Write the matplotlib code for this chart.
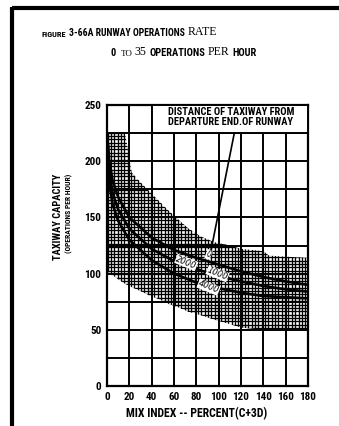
import matplotlib
matplotlib.use("Agg")
import matplotlib.pyplot as plt
import numpy as np
from matplotlib.collections import LineCollection
from matplotlib.lines import Line2D
from matplotlib.patches import Rectangle

# curves: taxiway capacity vs mix index, by distance from departure end
mix = [1, 2, 5, 10, 20, 40, 60, 80, 100, 120, 140, 160, 180]
cap_0 = [215, 200, 183, 168, 150, 132, 121, 114, 108, 102, 97, 93, 90]
cap_2000 = [205, 190, 172, 157, 140, 122, 111, 104, 98, 93, 89, 86, 84]
cap_4000 = [195, 180, 162, 147, 130, 112, 100, 92, 87, 83, 80, 79, 78]

# cross-hatched band
band_x = [0, 10, 16, 18, 22, 31, 39, 47, 55, 64, 73, 84, 96, 110, 120, 140, 145, 160, 180]
band_hi = [225, 225, 225, 215, 190, 180, 172, 164, 156, 148, 140, 133, 128, 125, 122, 120, 116, 115, 114]
band_lo = [102, 95, 91, 90, 88, 84, 80, 77, 73, 70, 66, 63, 59, 55, 52, 50, 50, 50, 50]

x_ticks = list(range(0, 181, 20))
y_ticks = list(range(0, 251, 50))

W, H = 339, 426
NARROW = ['Roboto Condensed', 'Liberation Sans Narrow', 'Roboto']
SERIF = ['Liberation Serif', 'DejaVu Serif']

fig = plt.figure(figsize=(W / 100, H / 100), dpi=100)
ax = fig.add_axes([107 / W, 1 - 386 / H, 201 / W, 281 / H])


def px(x, y):
    return x / W, 1 - y / H


band = ax.fill_between(band_x, band_lo, band_hi, facecolor='none',
                       edgecolor='none', zorder=1)
# dense cross-hatch, clipped to the band
segs = [[(x, 0), (x, 250)] for x in np.arange(0.5, 180, 3)]
segs += [[(0, y), (180, y)] for y in np.arange(0.5, 250, 3)]
hatch = LineCollection(segs, colors='black', linewidths=0.95, zorder=1)
ax.add_collection(hatch)
hatch.set_clip_path(band.get_paths()[0], ax.transData)

for ys in (cap_0, cap_2000, cap_4000):
    ax.plot(mix, ys, color='black', lw=1.9, zorder=4, solid_capstyle='butt')

ax.set_xlim(0, 180)
ax.set_ylim(0, 250)
ax.set_xticks(x_ticks)
ax.set_yticks(y_ticks)
ax.set_yticks(range(25, 250, 50), minor=True)
ax.grid(True, which='both', color='black', lw=1.4, zorder=2)
ax.set_axisbelow(False)
ax.tick_params(which='both', length=0, pad=4)
for lab in ax.get_xticklabels() + ax.get_yticklabels():
    lab.set_family(NARROW)
    lab.set_weight('bold')
    lab.set_fontsize(8)
for s in ax.spines.values():
    s.set_linewidth(1.6)

# legend box at top
ax.add_patch(Rectangle((40, 225), 140, 25, facecolor='white', edgecolor='black',
                       lw=1.4, zorder=5))
ax.text(111, 244, 'DISTANCE OF TAXIWAY FROM', ha='center', va='center',
        family=NARROW, weight='bold', fontsize=7.5, zorder=6)
ax.text(111, 235, 'DEPARTURE END.OF RUNWAY', ha='center', va='center',
        family=NARROW, weight='bold', fontsize=7.5, zorder=6)
ax.plot([114, 93], [225, 120], color='black', lw=1.2, zorder=5)

# curve labels
box = dict(facecolor='white', edgecolor='none', pad=0.3)
ax.text(91, 117, '0', rotation=-20, fontsize=5.5, style='italic', ha='center',
        va='center', bbox=box, zorder=6)
ax.text(71, 110, '2000', rotation=-22, fontsize=6, style='italic', ha='center',
        va='center', bbox=box, zorder=6)
ax.text(99, 100, '1000', rotation=-22, fontsize=6, style='italic', ha='center',
        va='center', bbox=box, zorder=6)
ax.text(91, 88, '4000', rotation=-22, fontsize=6, style='italic', ha='center',
        va='center', bbox=box, zorder=6)

# axis titles
fig.text(*px(197, 414), 'MIX INDEX -- PERCENT(C+3D)', ha='center', va='center',
         family=NARROW, weight='bold', fontsize=8.5)
fig.text(*px(58, 217), 'TAXIWAY CAPACITY', rotation=90, ha='center',
         va='center', family=NARROW, weight='bold', fontsize=7.5)
fig.text(*px(69, 213), '(OPERATIONS PER HOUR)', rotation=90, ha='center',
         va='center', family=NARROW, weight='bold', fontsize=5.5)


# title, built from pieces in two fonts
def chain(start, pieces):
    prev = fig.text(*start, pieces[0][0], family=pieces[0][1], weight=pieces[0][2],
                    fontsize=pieces[0][3], va='baseline', ha='left')
    for txt, fam, wt, size, gap in pieces[1:]:
        prev = ax.annotate(txt, xy=(1, 0), xycoords=prev, xytext=(gap, 0),
                           textcoords='offset points', family=fam, weight=wt,
                           fontsize=size, va='bottom', ha='left',
                           annotation_clip=False)


chain(px(42, 37), [
    ('FIGURE', NARROW, 'bold', 6, 0),
    ('3-66A RUNWAY OPERATIONS', NARROW, 'bold', 7, 2),
    ('RATE', SERIF, 'normal', 8.5, 2),
])
chain(px(110, 56), [
    ('0', NARROW, 'bold', 7.5, 0),
    ('TO', SERIF, 'normal', 6.5, 4),
    ('35', SERIF, 'normal', 8.5, 1.5),
    ('OPERATIONS', NARROW, 'bold', 7.5, 2),
    ('PER', SERIF, 'normal', 8.5, 2),
    ('HOUR', NARROW, 'bold', 7.5, 2),
])

# page frame: top and left border
fig.add_artist(Line2D([12 / W, 1], [1 - 8 / H, 1 - 8 / H], color='black', lw=3,
                      transform=fig.transFigure, solid_capstyle='butt'))
fig.add_artist(Line2D([12 / W, 12 / W], [1 - 6.5 / H, 0], color='black', lw=3,
                      transform=fig.transFigure, solid_capstyle='butt'))

fig.savefig('out.png', dpi=100, facecolor='white')
